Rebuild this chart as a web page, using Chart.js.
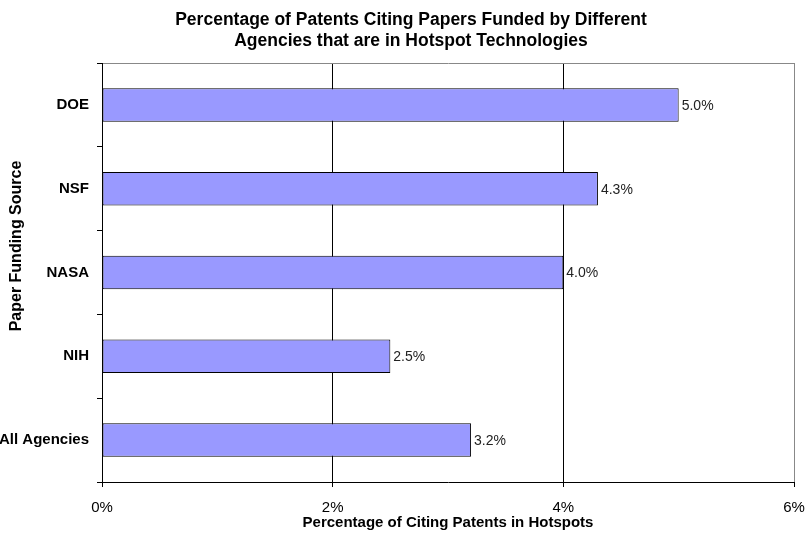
<!DOCTYPE html>
<html>
<head>
<meta charset="utf-8">
<script src="https://cdn.jsdelivr.net/npm/chart.js@4/dist/chart.umd.min.js"></script>
<style>
	body { margin: 0; background: #fff; }
	canvas { display: block; }
</style>
</head>
<body>
<canvas id="patentChart" width="806" height="535"></canvas>
<script>
// Patents citing agency-funded papers, share in hotspot technologies

const agencies = ['DOE', 'NSF', 'NASA', 'NIH', 'All Agencies'];
const hotspotShare = [5.0, 4.3, 4.0, 2.5, 3.2];
const xTicks = [0, 2, 4, 6];
const titleLines = ['Percentage of Patents Citing Papers Funded by Different', 'Agencies that are in Hotspot Technologies'];

const FONT = 'Arial, "Liberation Sans", sans-serif';

// value labels to the right of each bar
const barLabels = {
	id: 'barLabels',
	afterDatasetsDraw(chart) {
		const ctx = chart.ctx;
		const meta = chart.getDatasetMeta(0);
		ctx.save();
		ctx.font = '14px ' + FONT;
		ctx.fillStyle = '#222';
		ctx.textAlign = 'left';
		ctx.textBaseline = 'middle';
		meta.data.forEach((bar, i) => {
			ctx.fillText(hotspotShare[i].toFixed(1) + '%', bar.x + 3, bar.y + 1);
		});
		ctx.restore();
	}
};

// chart title and y axis title are placed off-centre in the original
const titles = {
	id: 'titles',
	afterDraw(chart) {
		const ctx = chart.ctx;
		ctx.save();
		ctx.fillStyle = '#000';
		ctx.textAlign = 'center';
		ctx.textBaseline = 'middle';
		ctx.font = 'bold 17.5px ' + FONT;
		titleLines.forEach((line, i) => ctx.fillText(line, 411, 20 + i * 21));

		ctx.translate(17, 246);
		ctx.rotate(-Math.PI / 2);
		ctx.font = 'bold 16px ' + FONT;
		ctx.fillText('Paper Funding Source', 0, 0);
		ctx.restore();
	}
};

new Chart(document.getElementById('patentChart'), {
	type: 'bar',
	data: {
		labels: agencies,
		datasets: [{
			data: hotspotShare,
			backgroundColor: '#9999ff',
			borderColor: '#000',
			borderWidth: 1,
			borderSkipped: false,
			barPercentage: 0.4,
			categoryPercentage: 1
		}]
	},
	options: {
		indexAxis: 'y',
		responsive: false,
		animation: false,
		layout: { padding: { left: 0, right: 12, top: 63, bottom: 0 } },
		plugins: {
			legend: { display: false },
			tooltip: { enabled: false },
			title: { display: false }
		},
		scales: {
			x: {
				min: 0,
				max: 6,
				afterBuildTicks: s => { s.ticks = xTicks.map(v => ({ value: v })); },
				afterFit: s => { s.height = 53; s.paddingLeft = 0; s.paddingRight = 0; },
				border: { color: '#000', width: 1 },
				grid: {
					color: c => c.tick && c.tick.value === 6 ? '#888' : (c.tick && c.tick.value === 0 ? 'transparent' : '#000'),
					tickColor: '#000',
					tickLength: 5
				},
				ticks: {
					color: '#000',
					padding: 12,
					maxRotation: 0,
					font: { family: FONT, size: 15 },
					callback: v => v + '%'
				},
				title: {
					display: true,
					text: 'Percentage of Citing Patents in Hotspots',
					color: '#000',
					font: { family: FONT, size: 15, weight: 'bold' },
					padding: { top: 0, bottom: 3 }
				}
			},
			y: {
				afterFit: s => { s.width = 102; s.paddingTop = 0; s.paddingBottom = 0; },
				border: { color: '#000', width: 1 },
				grid: {
					offset: true,
					color: c => c.index === 0 ? '#888' : 'transparent',
					tickColor: '#000',
					tickLength: 5
				},
				ticks: {
					color: '#000',
					padding: 8,
					font: { family: FONT, size: 15, weight: 'bold' }
				}
			}
		}
	},
	plugins: [barLabels, titles]
});
</script>
</body>
</html>
